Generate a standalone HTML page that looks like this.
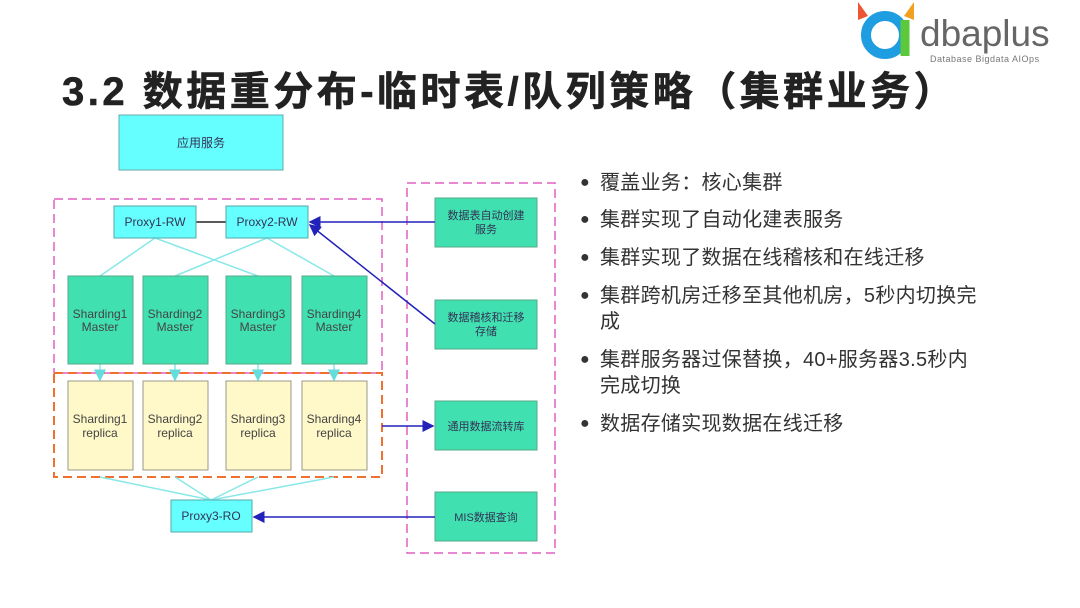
<!DOCTYPE html>
<html><head><meta charset="utf-8"><style>
body{margin:0;width:1080px;height:608px;background:#fff;overflow:hidden;position:relative;font-family:"Liberation Sans","Noto Sans CJK SC",sans-serif;}
.t{position:absolute;left:62px;top:59px;font-size:40px;font-weight:bold;color:#222;white-space:nowrap;letter-spacing:3.5px;-webkit-text-stroke:0.6px #222}
.b{position:absolute;left:580px;font-size:20px;color:#333;line-height:26px;width:440px;letter-spacing:0.3px}
.b span{position:absolute;left:0;top:0;font-size:16px}
.b div{margin-left:20px}
</style></head><body>
<div class="t">3.2 数据重分布-临时表/队列策略（集群业务）</div>
<svg width="1080" height="608" style="position:absolute;left:0;top:0" font-family="Liberation Sans, Noto Sans CJK SC, sans-serif">
<defs><marker id="a" markerWidth="8" markerHeight="8" refX="7" refY="4" orient="auto"><path d="M0,0L8,4L0,8z" fill="#2222bb"/></marker>
<marker id="c" markerWidth="8" markerHeight="8" refX="7" refY="4" orient="auto"><path d="M0,0L8,4L0,8z" fill="#66dddd"/></marker></defs>
<circle cx="885" cy="35" r="19" fill="none" stroke="#1e9ee0" stroke-width="10"/>
<path d="M905,20 L905,56" stroke="#5cc83c" stroke-width="9"/>
<path d="M858,2 L868,16 L858,20z" fill="#e53"/><path d="M914,2 L904,16 L914,20z" fill="#f2a020"/>
<text x="920" y="46" font-size="37" fill="#666">dbaplus</text>
<text x="930" y="62" font-size="9" fill="#777" letter-spacing="0.5">Database  Bigdata  AIOps</text>
<rect x="119" y="115" width="164" height="55" fill="#66ffff" stroke="#6aa"/>
<text x="201" y="147" font-size="12" text-anchor="middle" fill="#335">应用服务</text>
<rect x="54" y="199" width="328" height="174" fill="none" stroke="#e060c0" stroke-width="1.5" stroke-dasharray="9,5"/>
<rect x="54" y="373" width="328" height="104" fill="none" stroke="#f07030" stroke-width="2" stroke-dasharray="9,5"/>
<rect x="407" y="183" width="148" height="370" fill="none" stroke="#e060c0" stroke-width="1.5" stroke-dasharray="9,5"/>
<g stroke="#88e8e8" stroke-width="1.5">
<line x1="155" y1="238" x2="100" y2="276"/><line x1="155" y1="238" x2="258" y2="276"/>
<line x1="267" y1="238" x2="175" y2="276"/><line x1="267" y1="238" x2="334" y2="276"/>
<line x1="100" y1="477" x2="211" y2="500"/><line x1="175" y1="477" x2="211" y2="500"/>
<line x1="258" y1="477" x2="211" y2="500"/><line x1="334" y1="477" x2="211" y2="500"/>
<line x1="100" y1="364" x2="100" y2="380" marker-end="url(#c)"/><line x1="175" y1="364" x2="175" y2="380" marker-end="url(#c)"/>
<line x1="258" y1="364" x2="258" y2="380" marker-end="url(#c)"/><line x1="334" y1="364" x2="334" y2="380" marker-end="url(#c)"/>
</g>
<line x1="196" y1="222" x2="226" y2="222" stroke="#222" stroke-width="1.5"/>
<g fill="#66ffff" stroke="#5aa"><rect x="114" y="206" width="82" height="32"/><rect x="226" y="206" width="82" height="32"/><rect x="171" y="500" width="81" height="32"/></g>
<g font-size="12" fill="#335" text-anchor="middle"><text x="155" y="226">Proxy1-RW</text><text x="267" y="226">Proxy2-RW</text><text x="211" y="520">Proxy3-RO</text></g>
<g fill="#40e0b0" stroke="#5a8"><rect x="68" y="276" width="65" height="88"/><rect x="143" y="276" width="65" height="88"/><rect x="226" y="276" width="65" height="88"/><rect x="302" y="276" width="65" height="88"/></g>
<g fill="#fff8c8" stroke="#998"><rect x="68" y="381" width="65" height="89"/><rect x="143" y="381" width="65" height="89"/><rect x="226" y="381" width="65" height="89"/><rect x="302" y="381" width="65" height="89"/></g>
<g font-size="12" fill="#444" text-anchor="middle">
<text x="100" y="318">Sharding1</text><text x="100" y="331">Master</text>
<text x="175" y="318">Sharding2</text><text x="175" y="331">Master</text>
<text x="258" y="318">Sharding3</text><text x="258" y="331">Master</text>
<text x="334" y="318">Sharding4</text><text x="334" y="331">Master</text>
<text x="100" y="423">Sharding1</text><text x="100" y="437">replica</text>
<text x="175" y="423">Sharding2</text><text x="175" y="437">replica</text>
<text x="258" y="423">Sharding3</text><text x="258" y="437">replica</text>
<text x="334" y="423">Sharding4</text><text x="334" y="437">replica</text>
</g>
<g fill="#40e0b0" stroke="#5a8"><rect x="435" y="198" width="102" height="49"/><rect x="435" y="300" width="102" height="49"/><rect x="435" y="401" width="102" height="49"/><rect x="435" y="492" width="102" height="49"/></g>
<g font-size="11" fill="#335" text-anchor="middle">
<text x="486" y="219">数据表自动创建</text><text x="486" y="233">服务</text>
<text x="486" y="321">数据稽核和迁移</text><text x="486" y="335">存储</text>
<text x="486" y="430">通用数据流转库</text><text x="486" y="521">MIS数据查询</text>
</g>
<g stroke="#2222bb" stroke-width="1.5">
<line x1="435" y1="222" x2="310" y2="222" marker-end="url(#a)"/>
<line x1="435" y1="324" x2="310" y2="225" marker-end="url(#a)"/>
<line x1="382" y1="426" x2="433" y2="426" marker-end="url(#a)"/>
<line x1="435" y1="517" x2="254" y2="517" marker-end="url(#a)"/>
</g>
</svg>
<div class="b" style="top:170px"><span>●</span><div>覆盖业务：核心集群</div></div>
<div class="b" style="top:207px"><span>●</span><div>集群实现了自动化建表服务</div></div>
<div class="b" style="top:245px"><span>●</span><div>集群实现了数据在线稽核和在线迁移</div></div>
<div class="b" style="top:283px"><span>●</span><div>集群跨机房迁移至其他机房，5秒内切换完<br>成</div></div>
<div class="b" style="top:347px"><span>●</span><div>集群服务器过保替换，40+服务器3.5秒内<br>完成切换</div></div>
<div class="b" style="top:411px"><span>●</span><div>数据存储实现数据在线迁移</div></div>
</body></html>
